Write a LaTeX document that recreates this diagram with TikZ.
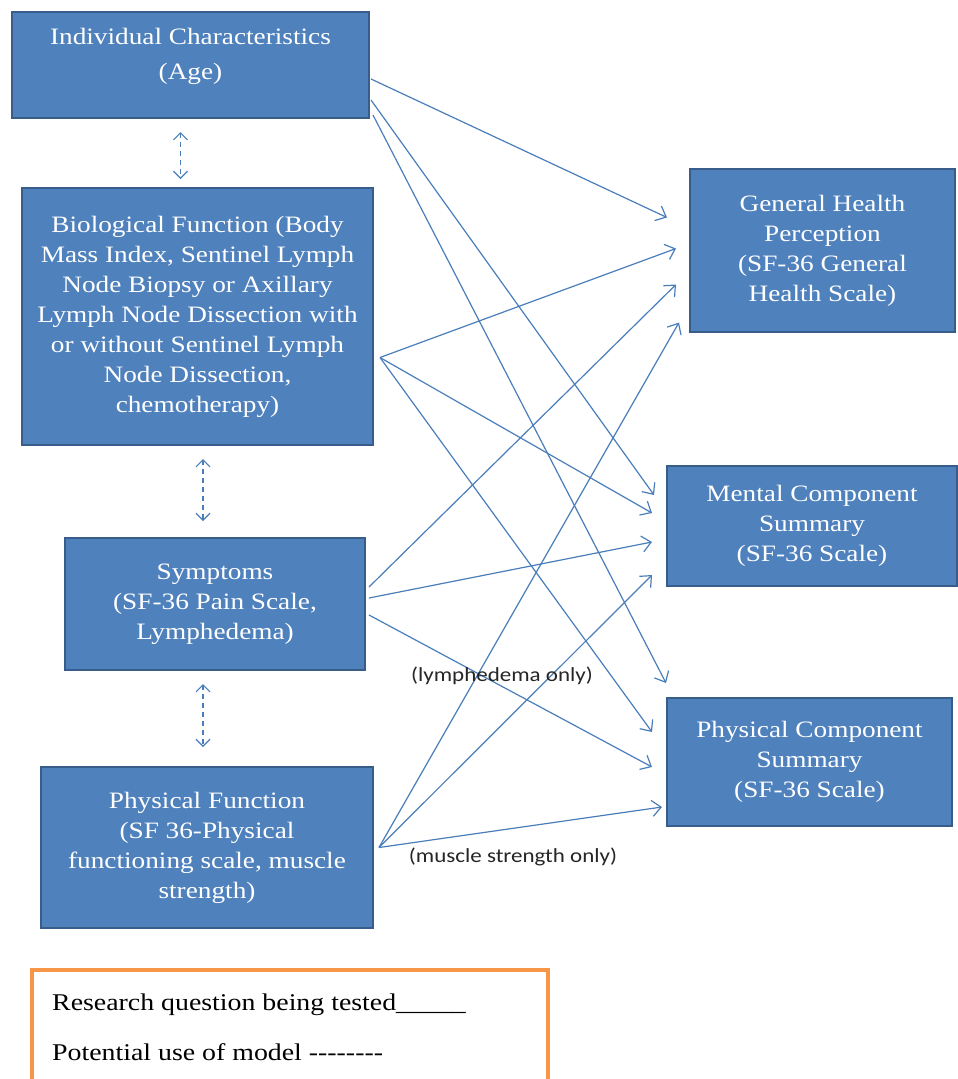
\documentclass[tikz,border=0pt]{standalone}
\usepackage{fontspec}
\setmainfont{Liberation Serif}
\newfontfamily\boxfont{Liberation Serif}[FakeStretch=1.16]
\newfontfamily\labelfont{Carlito}[FakeStretch=1.15]
\usetikzlibrary{arrows.meta,calc}
\definecolor{boxblue}{HTML}{4F81BD}
\definecolor{boxedge}{HTML}{385D8A}
\definecolor{linkblue}{HTML}{4A7EBB}
\definecolor{keyorange}{HTML}{F79646}

\begin{document}
\begin{tikzpicture}[x=1pt,y=-1pt,
    concept/.style={draw=boxedge, line width=2pt, fill=boxblue, text=white,
      align=center, inner sep=0pt, font=\boxfont\fontsize{23.5}{30}\selectfont},
    link/.style={draw=linkblue, line width=1.2pt,
      -{Straight Barb[length=9pt,width=16pt]}},
    tie/.style={draw=linkblue, line width=1.2pt, dash pattern=on 5pt off 4pt,
      {Straight Barb[length=7pt,width=14pt]}-{Straight Barb[length=7pt,width=14pt]}},
    note/.style={font=\labelfont\fontsize{20}{22}\selectfont, text=black!85},
    keytext/.style={anchor=west, inner sep=0pt, font=\boxfont\fontsize{24}{28}\selectfont}]
  \useasboundingbox[fill=white] (0,0) rectangle (958,1079);

  % left column
  \node[concept, minimum width=357pt, minimum height=106pt] (ind) at (190.5,65)
    {Individual Characteristics\\[5pt](Age)\\[-8pt]\mbox{}};
  \node[concept, minimum width=351pt, minimum height=257pt] (bio) at (197.5,316.5)
    {Biological Function (Body\\Mass Index, Sentinel Lymph\\Node Biopsy or Axillary\\Lymph Node Dissection with\\or without Sentinel Lymph\\Node Dissection,\\chemotherapy)};
  \node[concept, minimum width=300pt, minimum height=132pt] (sym) at (215,604)
    {Symptoms\\(SF-36 Pain Scale,\\Lymphedema)};
  \node[concept, minimum width=332pt, minimum height=161pt] (pf) at (207,847.5)
    {Physical Function\\(SF 36-Physical\\functioning scale, muscle\\strength)};

  % right column
  \node[concept, minimum width=265pt, minimum height=163pt] (gh) at (822.5,250.5)
    {General Health\\Perception\\(SF-36 General\\Health Scale)};
  \node[concept, minimum width=290pt, minimum height=120pt] (mcs) at (812,526)
    {Mental Component\\Summary\\(SF-36 Scale)};
  \node[concept, minimum width=285pt, minimum height=128pt] (pcs) at (809.5,762)
    {Physical Component\\Summary\\(SF-36 Scale)};

  % dashed ties
  \draw[tie] ($(ind.south)+(-10,13)$) -- ($(bio.north)+(-17,-8)$);
  \draw[tie] ($(bio.south)+(5.5,13)$) -- ($(sym.north)+(-12,-16)$);
  \draw[tie] ($(sym.south)+(-12,13)$) -- ($(pf.north)+(-4,-19)$);

  % paths
  \draw[link] ($(ind.east)+(1,14)$) -- ($(gh.west)+(-22,-33)$);
  \draw[link] ($(ind.east)+(1,35)$) -- ($(mcs.west)+(-12,-31)$);
  \draw[link] ($(ind.east)+(3,50)$) -- ($(pcs.west)+(0,-79)$);
  \draw[link] ($(bio.east)+(6,41)$) -- ($(gh.west)+(-13,-2)$);
  \draw[link] ($(bio.east)+(6,41)$) -- ($(mcs.west)+(-14,-13)$);
  \draw[link] ($(bio.east)+(6,41)$) -- ($(pcs.west)+(-14,-30)$);
  \draw[link] ($(sym.east)+(3,-17)$) -- ($(gh.west)+(-13,34)$);
  \draw[link] ($(sym.east)+(3,-6)$) -- ($(mcs.west)+(-14,16)$);
  \draw[link] ($(sym.east)+(3,11)$) -- ($(pcs.west)+(-14,5)$);
  \draw[link] ($(pf.east)+(5,0)$) -- ($(gh.west)+(-10,72)$);
  \draw[link] ($(pf.east)+(5,0)$) -- ($(mcs.west)+(-14,49)$);
  \draw[link] ($(pf.east)+(5,0)$) -- ($(pcs.west)+(-4,45)$);

  \node[note] (lymph) at (502,676) {(lymphedema only)};
  \node[note] (muscle) at (513,857) {(muscle strength only)};

  % key
  \node[draw=keyorange, line width=4pt, minimum width=516pt, minimum height=117pt,
    inner sep=0pt] (key) at (290,1028.5) {};
  \node[keytext] (question) at ($(key.north west)+(22,37)$)
    {Research question being tested\_\_\_\_\_};
  \node[keytext] (use) at ($(key.north west)+(22,84)$)
    {Potential use of model -{}-{}-{}-{}-{}-{}-{}-};
\end{tikzpicture}
\end{document}
